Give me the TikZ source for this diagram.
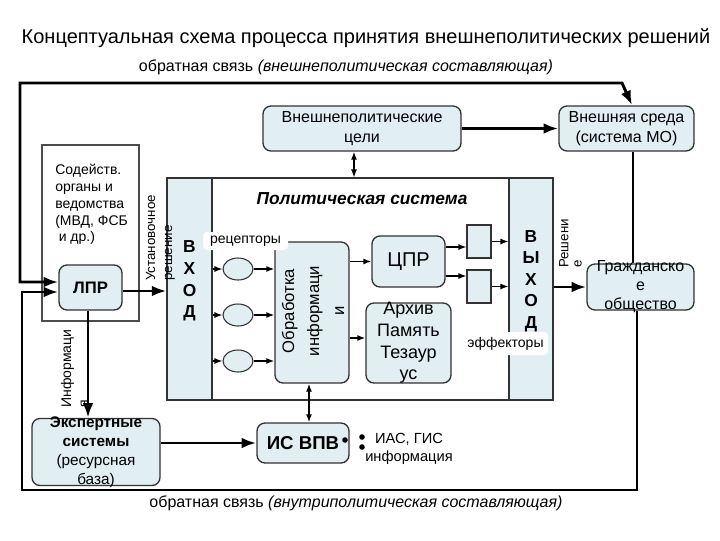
\documentclass[tikz,border=0pt]{standalone}
\usepackage{fontspec}
\setmainfont{Liberation Sans}
\usetikzlibrary{arrows.meta,shapes.geometric,calc}
\definecolor{pale}{RGB}{226,239,242}
\definecolor{edge}{RGB}{50,50,50}
\begin{document}
\begin{tikzpicture}[x=0.75pt,y=-0.75pt,
  sz/.style 2 args={minimum width=#1*0.75pt,minimum height=#2*0.75pt},
  box/.style={draw=edge,line width=1pt,fill=pale,rounded corners=6pt,inner sep=0pt,align=center},
  panel/.style={draw=edge,line width=0.8pt,inner sep=0pt},
  bigline/.style={line width=2.2pt},
  bigarrow/.style={line width=2.2pt,-{Latex[length=11pt,width=8pt]}},
  smallarrow/.style={line width=1pt,-{Latex[length=6pt,width=4.5pt]}},
  smalldouble/.style={line width=1pt,{Latex[length=6pt,width=4.5pt]}-{Latex[length=6pt,width=4.5pt]}},
  tag/.style={fill=white,rounded corners=3pt,inner sep=0pt},
  dotnode/.style={circle,fill=black,inner sep=0pt,minimum size=4.2pt}
]
\useasboundingbox (0,0) rectangle (720,540);

% titles
\node[font=\fontsize{15}{18}\selectfont] (title) at (366,38) {Концептуальная схема процесса принятия внешнеполитических решений};
\node[font=\fontsize{12}{14}\selectfont] (fbtop) at (346,67) {обратная связь \textit{(внешнеполитическая составляющая)}};
\node[font=\fontsize{12}{14}\selectfont] (fbbot) at (356,503) {обратная связь \textit{(внутриполитическая составляющая)}};

% political system
\node[panel,fill=white,sz={386}{222}] (polit) at (360,289) {};
\node[panel,fill=pale,sz={45}{222}] (vhod) at (189.5,289) {};
\node[panel,fill=pale,sz={44}{222}] (vyhod) at (531,289) {};
\node[font=\bfseries\fontsize{13}{16.3}\selectfont,align=center] (vhodtxt) at (189.5,281) {В\\Х\\О\\Д};
\node[font=\bfseries\fontsize{13}{16.1}\selectfont,align=center] (vyhodtxt) at (531,281) {В\\Ы\\Х\\О\\Д};
\node[font=\bfseries\itshape\fontsize{13}{15}\selectfont] (ptitle) at (362,199) {Политическая система};

% top boxes
\node[box,sz={198}{45},font=\fontsize{12}{15}\selectfont] (goals) at (362,128.5) {Внешнеполитические\\цели};
\node[box,sz={135}{45},font=\fontsize{12}{15}\selectfont] (env) at (626.5,128.5) {Внешняя среда\\(система МО)};

% left side
\node[draw=gray!60!black,line width=1pt,fill=white,sz={97}{176},inner sep=0pt] (sod) at (90.5,233) {};
\node[font=\fontsize{10.5}{12.6}\selectfont,align=left,anchor=north west,inner sep=0pt] (sodtxt) at (55,164) {Содейств.\\органы и\\ведомства\\(МВД, ФСБ\\\hspace{0.25em}и др.)};
\node[box,sz={63}{45},font=\bfseries\fontsize{12.5}{15}\selectfont] (lpr) at (90.5,287.5) {ЛПР};
\node[box,sz={128}{67},label={[font=\fontsize{11.5}{14.2}\selectfont,align=center]center:{\bfseries Экспертные}\\{\bfseries системы}\\(ресурсная\\база)}] (exp) at (96,452) {};

% inner boxes
\node[ellipse,draw=edge,line width=0.8pt,fill=pale,sz={30}{22},inner sep=0pt] (e1) at (238,269) {};
\node[ellipse,draw=edge,line width=0.8pt,fill=pale,sz={30}{22},inner sep=0pt] (e2) at (238,315) {};
\node[ellipse,draw=edge,line width=0.8pt,fill=pale,sz={30}{22},inner sep=0pt] (e3) at (238,361) {};
\node[box,sz={74}{141}] (obr) at (312,312.5) {};
\node[rotate=90,align=center,font=\fontsize{12.5}{18.7}\selectfont] (obrtxt) at (313,311) {Обработка\\информаци\\и};
\node[box,sz={73}{51},font=\fontsize{15}{18}\selectfont] (cpr) at (408.5,261.5) {ЦПР};
\node[box,sz={85}{80},label={[font=\fontsize{13.5}{16.2}\selectfont,align=center]center:Архив\\Память\\Тезаур\\ус}] (arch) at (408.5,343) {};
\node[panel,fill=pale,sz={24}{33}] (sb1) at (479,241.5) {};
\node[panel,fill=pale,sz={24}{33}] (sb2) at (479,286.5) {};

% labels on panels
\node[tag,sz={85}{18},font=\fontsize{10.5}{12}\selectfont] (rec) at (245.5,241) {рецепторы};
\node[tag,sz={85}{23},font=\fontsize{10.5}{12}\selectfont] (eff) at (505.5,343.5) {эффекторы};
\node[rotate=90,anchor=west,align=left,inner sep=0pt,font=\fontsize{10}{12.7}\selectfont] (ust) at (160.5,281) {Установочное\\решение};
\node[rotate=90,anchor=west,align=left,inner sep=0pt,font=\fontsize{10}{9.8}\selectfont] (resh) at (570.5,268) {Решени\\е};
\node[rotate=90,anchor=west,align=left,inner sep=0pt,font=\fontsize{10.5}{12.7}\selectfont] (inf) at (74.5,408) {Информаци\\я};

% right
\node[box,sz={107}{46},label={[font=\fontsize{12}{14.3}\selectfont,align=center]center:Гражданско\\е\\общество}] (civ) at (640.5,287) {};

% bottom
\node[box,sz={92}{40},font=\bfseries\fontsize{14}{16}\selectfont] (isvpv) at (303,443) {ИС ВПВ};
\node[dotnode] (d1) at (345,440) {};
\node[dotnode] (d2) at (362,437) {};
\node[dotnode] (d3) at (362,447) {};
\node[align=center,font=\fontsize{11}{13.5}\selectfont] (ias) at (409,449) {ИАС, ГИС\\информация};

% coordinates
\coordinate (lprout) at ($(lpr.east)+(0,3.5)$);
\coordinate (lprin1) at ($(lpr.west)+(0,-5.5)$);
\coordinate (lprin2) at ($(lpr.west)+(0,4.5)$);
\coordinate (lprdown) at ($(lpr.south)+(-2.5,0)$);
\coordinate (archin) at ($(arch.west)+(0,-5)$);
\coordinate (s1in) at ($(sb1.west)+(0,5.5)$);
\coordinate (s2in) at ($(sb2.west)+(0,-10.5)$);
\coordinate (obrdn) at ($(obr.south)+(-3,0)$);
\coordinate (gdn) at ($(goals.south)+(-8,0)$);
\coordinate (envdn) at ($(env.south)+(6.5,0)$);
\coordinate (envtop) at ($(env.north)+(5.5,0)$);
\coordinate (civdn) at ($(civ.south)+(-3.5,0)$);
\coordinate (tl) at (20,83);
\coordinate (tr) at (622,83);
\coordinate (bl) at (22,490);

% connectors
\draw[bigarrow] (lprout) -- (lprout -| vhod.west);
\foreach \e in {e1,e2,e3}{
  \draw[smallarrow] (\e -| vhod.east) -- (\e.west);
  \draw[smallarrow] (\e.east) -- (\e -| obr.west);
}
\draw[smallarrow] (cpr.west -| obr.east) -- (cpr.west);
\draw[smallarrow] (archin -| obr.east) -- (archin);
\draw[smallarrow] (s1in -| cpr.east) -- (s1in);
\draw[smallarrow] (s2in -| cpr.east) -- (s2in);
\draw[smallarrow] (sb1.east) -- (sb1.east -| vyhod.west);
\draw[smallarrow] (sb2.east) -- (sb2.east -| vyhod.west);
\draw[bigarrow] (civ.west -| vyhod.east) -- (civ.west);
\draw[bigarrow] (lprdown) -- (lprdown |- exp.north);
\draw[bigarrow] (isvpv.west -| exp.east) -- (isvpv.west);
\draw[smalldouble] (obrdn) -- (obrdn |- isvpv.north);
\draw[smalldouble] (gdn) -- (gdn |- polit.north);
\draw[bigarrow] (goals.east) -- (goals.east -| env.west);
\draw[bigline] (envdn) -- (envdn |- civ.north);
\draw[bigline,{Latex[length=11pt,width=8pt]}-{Latex[length=11pt,width=8pt]}] (lprin1) -| (tl) -- (tr) -- (envtop);
\draw[bigarrow] (civdn) |- (bl) |- (lprin2);
\end{tikzpicture}
\end{document}
